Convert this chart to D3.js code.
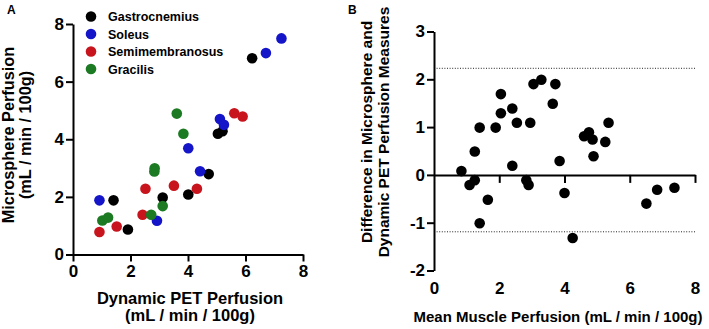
<!DOCTYPE html>
<html>
<head>
<meta charset="utf-8">
<script src="https://cdn.jsdelivr.net/npm/d3@7"></script>
<style>
  body { margin: 0; background: #fff; }
  svg text { font-family: "Liberation Sans", Arial, sans-serif; font-weight: bold; }
</style>
</head>
<body>
<svg id="chart" width="709" height="329"></svg>
<script>
// Panel A : perfusion par muscle (x = PET dynamique, y = microsphères)
const muscles = ["Gastrocnemius", "Soleus", "Semimembranosus", "Gracilis"];
const muscleColors = ["#000000", "#1414c8", "#c8141c", "#1c7a22"];

const gastrocPET = [6.23, 5.04, 5.20, 4.72, 4.01, 3.12, 1.41, 1.91];
const gastrocMS  = [6.81, 4.19, 4.28, 2.79, 2.08, 1.98, 1.88, 0.87];
const soleusPET  = [7.25, 6.71, 5.11, 5.25, 4.01, 4.42, 2.92, 0.92];
const soleusMS   = [7.50, 6.99, 4.70, 4.50, 3.69, 2.89, 1.17, 1.88];
const semiPET    = [5.61, 5.90, 3.51, 4.31, 2.52, 2.42, 1.52, 0.92];
const semiMS     = [4.90, 4.79, 2.39, 2.28, 2.28, 1.38, 0.97, 0.78];
const gracPET    = [3.61, 3.84, 2.84, 2.83, 3.12, 2.72, 1.02, 1.22];
const gracMS     = [4.89, 4.19, 2.99, 2.88, 1.68, 1.38, 1.18, 1.28];

const petByMuscle = [gastrocPET, soleusPET, semiPET, gracPET];
const msByMuscle  = [gastrocMS, soleusMS, semiMS, gracMS];

// Panel B : Bland-Altman
const meanPerfusion = [0.84, 1.09, 1.25, 1.25, 1.40, 1.40, 1.65, 1.89, 2.05, 2.05, 2.40, 2.40, 2.54, 2.83, 2.90, 2.95,
                       3.05, 3.29, 3.64, 3.72, 3.85, 4.00, 4.25, 4.60, 4.75, 4.86, 4.89, 5.25, 5.35, 6.51, 6.84, 7.37];
const diffPerfusion = [0.08, -0.21, -0.11, 0.49, 0.99, -1.01, -0.52, 0.99, 1.69, 1.29, 1.39, 0.19, 1.09, -0.11, -0.21, 1.09,
                       1.90, 1.99, 1.49, 1.90, 0.29, -0.38, -1.32, 0.81, 0.89, 0.74, 0.39, 0.69, 1.09, -0.60, -0.31, -0.27];
const limitsOfAgreement = [2.23, -1.19];

const ticksA = [0, 2, 4, 6, 8];
const ticksBy = [-2, -1, 0, 1, 2, 3];
const ticksBx = [0, 2, 4, 6, 8];

const svg = d3.select("#chart");
const dotR = 5.3;
const plainNum = d => String(d); // tiret simple comme dans l'original

/** Style commun des axes */
function styleAxis(g) {
  g.selectAll(".domain").attr("stroke", "#000").attr("stroke-width", 2);
  g.selectAll(".tick line").attr("stroke", "#000").attr("stroke-width", 2);
  g.selectAll(".tick text").attr("fill", "#000").attr("font-size", "17px")
    .style("font-family", "'Liberation Sans', Arial, sans-serif").style("font-weight", "bold");
}

// ---------- Panel A ----------
const xA = d3.scaleLinear().domain([0, 8]).range([73, 303]);
const yA = d3.scaleLinear().domain([0, 8]).range([254.5, 24]);

svg.append("g")
  .attr("transform", `translate(0,${yA(0)})`)
  .call(d3.axisBottom(xA).tickValues(ticksA).tickFormat(plainNum).tickSize(7).tickSizeOuter(0).tickPadding(3))
  .call(styleAxis);

svg.append("g")
  .attr("transform", `translate(${xA(0)},0)`)
  .call(d3.axisLeft(yA).tickValues(ticksA).tickFormat(plainNum).tickSize(7).tickSizeOuter(0).tickPadding(2))
  .call(styleAxis);

muscles.forEach((m, k) => {
  const pts = petByMuscle[k].map((v, i) => ({ x: v, y: msByMuscle[k][i] }));
  svg.append("g").selectAll("circle")
    .data(pts)
    .enter().append("circle")
    .attr("cx", d => xA(d.x))
    .attr("cy", d => yA(d.y))
    .attr("r", dotR)
    .attr("fill", muscleColors[k]);
});

// Légende
const legend = svg.append("g");
muscles.forEach((m, k) => {
  legend.append("circle")
    .attr("cx", 91).attr("cy", 16.5 + k * 17.5).attr("r", dotR)
    .attr("fill", muscleColors[k]);
  legend.append("text")
    .attr("x", 108).attr("y", 16.5 + k * 17.5 + 4.6)
    .attr("font-size", "12.5px").attr("fill", "#000")
    .text(m);
});

svg.append("text").attr("x", 7).attr("y", 14).attr("font-size", "12px").text("A");

svg.append("text").attr("x", 190).attr("y", 304).attr("text-anchor", "middle")
  .attr("font-size", "16.5px").text("Dynamic PET Perfusion");
svg.append("text").attr("x", 190).attr("y", 321).attr("text-anchor", "middle")
  .attr("font-size", "16.5px").text("(mL / min / 100g)");

svg.append("text").attr("transform", "translate(14,135) rotate(-90)").attr("text-anchor", "middle")
  .attr("font-size", "16.3px").text("Microsphere Perfusion");
svg.append("text").attr("transform", "translate(31,135) rotate(-90)").attr("text-anchor", "middle")
  .attr("font-size", "16.3px").text("(mL / min / 100g)");

// ---------- Panel B ----------
const xB = d3.scaleLinear().domain([0, 8]).range([434, 695]);
const yB = d3.scaleLinear().domain([-2, 3]).range([270.5, 31.5]);

// Limites d'accord (pointillés)
svg.append("g").selectAll("line")
  .data(limitsOfAgreement)
  .enter().append("line")
  .attr("x1", xB(0)).attr("x2", xB(8))
  .attr("y1", d => yB(d)).attr("y2", d => yB(d))
  .attr("stroke", "#222").attr("stroke-width", 1)
  .attr("stroke-dasharray", "1,1.6");

// Axe x à y = 0, sans étiquettes
svg.append("g")
  .attr("transform", `translate(0,${yB(0)})`)
  .call(d3.axisBottom(xB).tickValues(ticksBx.filter(d => d > 0)).tickFormat("").tickSize(8).tickSizeOuter(0))
  .call(styleAxis);

// Étiquettes de l'axe x en bas
svg.append("g")
  .attr("transform", `translate(0,${yB(-2)})`)
  .call(d3.axisBottom(xB).tickValues(ticksBx).tickFormat(plainNum).tickSize(0).tickPadding(11))
  .call(styleAxis)
  .call(g => g.select(".domain").remove());

svg.append("g")
  .attr("transform", `translate(${xB(0)},0)`)
  .call(d3.axisLeft(yB).tickValues(ticksBy).tickFormat(plainNum).tickSize(7).tickSizeOuter(0).tickPadding(2))
  .call(styleAxis);

svg.append("g").selectAll("circle")
  .data(meanPerfusion.map((v, i) => ({ x: v, y: diffPerfusion[i] })))
  .enter().append("circle")
  .attr("cx", d => xB(d.x))
  .attr("cy", d => yB(d.y))
  .attr("r", dotR)
  .attr("fill", "#000");

svg.append("text").attr("x", 348).attr("y", 14).attr("font-size", "12px").text("B");

svg.append("text").attr("x", 558).attr("y", 322).attr("text-anchor", "middle")
  .attr("font-size", "15px").text("Mean Muscle Perfusion (mL / min / 100g)");

svg.append("text").attr("transform", "translate(372,132) rotate(-90)").attr("text-anchor", "middle")
  .attr("font-size", "15.5px").text("Difference in Microsphere and");
svg.append("text").attr("transform", "translate(389,132) rotate(-90)").attr("text-anchor", "middle")
  .attr("font-size", "15.5px").text("Dynamic PET Perfusion Measures");
</script>
</body>
</html>
